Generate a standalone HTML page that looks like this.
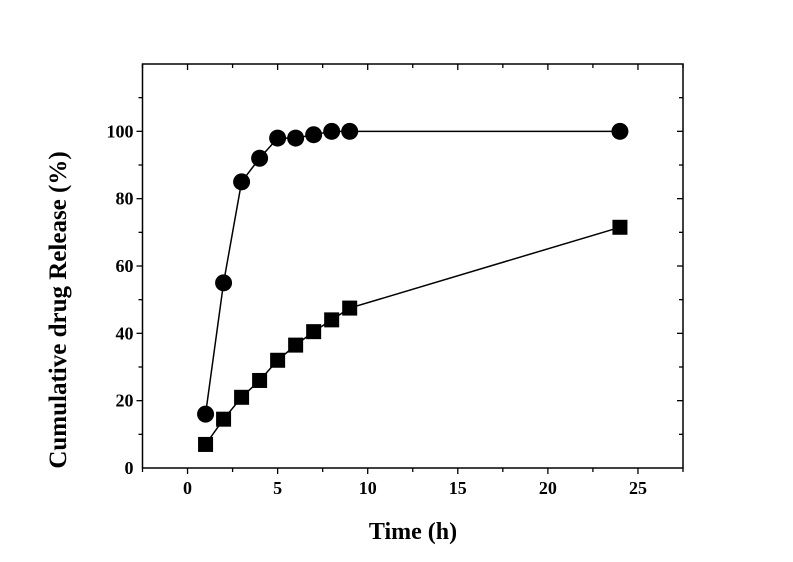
<!DOCTYPE html>
<html><head><meta charset="utf-8"><style>body{margin:0;background:#fff}svg{display:block}text{font-family:"Liberation Serif",serif;font-weight:bold;fill:#000}</style></head>
<body>
<svg id="c" width="793" height="562"></svg>
<script>
const timesA=[1,2,3,4,5,6,7,8,9,24];
const circleVals=[16,55,85,92,98,98,99,100,100,100];
const timesB=[1,2,3,4,5,6,7,8,9,24];
const squareVals=[7,14.5,21,26,32,36.5,40.5,44,47.5,71.5];
const xTicks=[0,5,10,15,20,25];
const yTicks=[0,20,40,60,80,100];
const L=142.5,R=683,T=64,B=468,x0=-2.5,x1=27.5,y0=0,y1=120;
const X=v=>L+(v-x0)/(x1-x0)*(R-L), Y=v=>B-(v-y0)/(y1-y0)*(B-T);
const s=document.getElementById('c'),NS='http://www.w3.org/2000/svg';
function mk(t,a,p){const e=document.createElementNS(NS,t);for(const k in a)e.setAttribute(k,a[k]);(p||s).appendChild(e);return e;}
let e=mk('rect',{x:L,y:T,width:R-L,height:B-T,fill:'none',stroke:'#000','stroke-width':1.5});


for(let v=-2.5;v<=27.5;v+=2.5){const maj=v%5===0,len=maj?6:4;
mk('line',{x1:X(v),x2:X(v),y1:B,y2:B+len,stroke:'#000','stroke-width':1.3});
mk('line',{x1:X(v),x2:X(v),y1:T,y2:T+len,stroke:'#000','stroke-width':1.3});}
for(let v=10;v<=110;v+=10){const maj=v%20===0,len=maj?6:4;
mk('line',{x1:L-len,x2:L,y1:Y(v),y2:Y(v),stroke:'#000','stroke-width':1.3});
mk('line',{x1:R-len,x2:R,y1:Y(v),y2:Y(v),stroke:'#000','stroke-width':1.3});}
xTicks.forEach(v=>{const t=mk('text',{x:X(v),y:B+26,'text-anchor':'middle','font-size':18});t.textContent=v;

});
yTicks.forEach(v=>{const t=mk('text',{x:L-9,y:Y(v)+6,'text-anchor':'end','font-size':18});t.textContent=v;

});
let xt=mk('text',{x:413,y:539,'text-anchor':'middle','font-size':24});xt.textContent='Time (h)';


let yt=mk('text',{x:0,y:0,'text-anchor':'middle','font-size':25,transform:`translate(66,310) rotate(-90)`});yt.textContent='Cumulative drug Release (%)';


function series(xs,ys,shape,name){
const g=mk('g',{});

mk('polyline',{points:xs.map((x,i)=>X(x)+','+Y(ys[i])).join(' '),fill:'none',stroke:'#000','stroke-width':1.5},g);
xs.forEach((x,i)=>{let m;
if(shape==='c')m=mk('circle',{cx:X(x),cy:Y(ys[i]),r:8.5,fill:'#000'},g);
else m=mk('rect',{x:X(x)-7.5,y:Y(ys[i])-7.5,width:15,height:15,fill:'#000'},g);

});}
series(timesA,circleVals,'c','circle-series');
series(timesB,squareVals,'s','square-series');
</script>
</body></html>
